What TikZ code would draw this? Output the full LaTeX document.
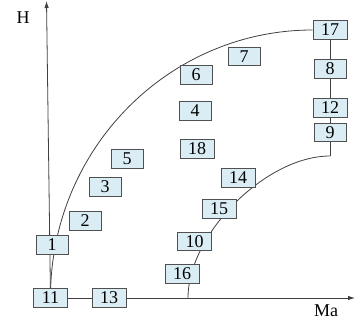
\documentclass[tikz,border=0pt]{standalone}
\usepackage{fontspec}
\setmainfont{Liberation Serif}
\usetikzlibrary{arrows.meta,backgrounds}
\definecolor{boxfill}{HTML}{DAEDF4}
\definecolor{boxline}{HTML}{505050}
\definecolor{wire}{HTML}{404040}
\tikzset{
  numbox/.style={draw=boxline,fill=boxfill,line width=0.8pt,minimum width=32pt,minimum height=18.5pt,inner xsep=8pt,inner ysep=0pt,font=\fontsize{18}{18}\selectfont},
  wireline/.style={draw=wire,line width=0.8pt},
  axisarrow/.style={wireline,-{Latex[length=7pt,width=4.5pt]}},
  axislabel/.style={font=\fontsize{18}{18}\selectfont,inner sep=0pt}
}
\begin{document}
\begin{tikzpicture}[x=1pt,y=-1pt]
\useasboundingbox (0,0) rectangle (355,323);
% boxes
\node[numbox] (n17) at (330,30) {17};
\node[numbox] (n8) at (330,69) {8};
\node[numbox] (n12) at (330,108) {12};
\node[numbox] (n9) at (330,132.5) {9};
\node[numbox] (n7) at (244,56.5) {7};
\node[numbox] (n6) at (196,75) {6};
\node[numbox] (n4) at (195,111) {4};
\node[numbox] (n18) at (197,149) {18};
\node[numbox] (n5) at (127,159) {5};
\node[numbox] (n3) at (105,187) {3};
\node[numbox] (n2) at (85,221) {2};
\node[numbox] (n1) at (52,245) {1};
\node[numbox] (n11) at (50.5,298) {11};
\node[numbox] (n13) at (109,298) {13};
\node[numbox] (n14) at (238,178) {14};
\node[numbox] (n15) at (219,209) {15};
\node[numbox] (n10) at (194.5,241.5) {10};
\node[numbox] (n16) at (182,274) {16};
% labels
\node[axislabel] (lh) at (23,18) {H};
\node[axislabel] (lma) at (326,311) {Ma};
% free ends
\coordinate (ytip) at (46.5,1);
\coordinate (xtip) at (355,298);
\coordinate (inb) at (188,298);
\coordinate (ine) at (330,156);
\begin{scope}[on background layer]
\draw[axisarrow] (n11.center) -- (ytip);
\draw[axisarrow] (n11.center) -- (xtip);
\draw[wireline] (n11.center) .. controls (50,149.5) and (168.3,30) .. (n17.west);
\draw[wireline] (n17) -- (n8) -- (n12) -- (n9) -- (ine);
\draw[wireline] (inb) .. controls (188,234) and (266,156) .. (ine);
\end{scope}
\end{tikzpicture}
\end{document}
